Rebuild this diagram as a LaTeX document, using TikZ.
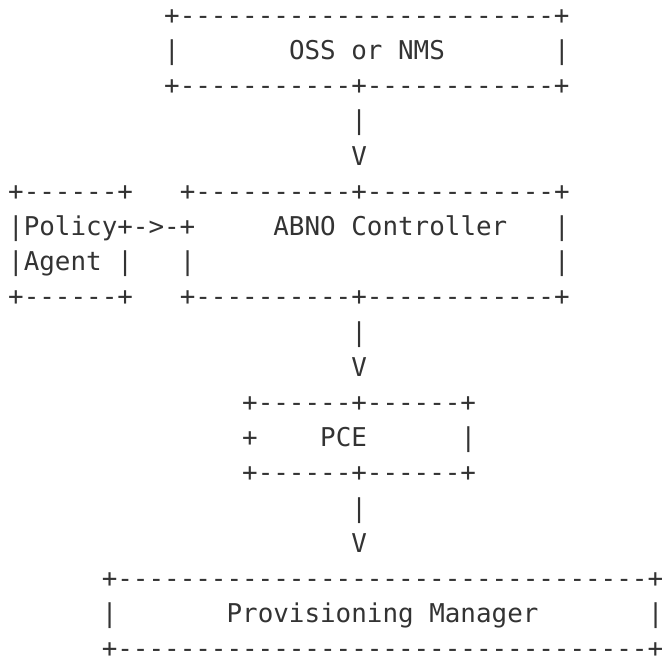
\documentclass[tikz,border=0pt]{standalone}
\usepackage{fontspec}
\newfontfamily\asciimono{DejaVu Sans Mono}[Ligatures=TeXOff]
\definecolor{ink}{HTML}{333333}
\tikzset{asciitxt/.style={anchor=base west, inner sep=0pt, outer sep=0pt, text=ink, font=\asciimono\fontsize{25.9}{35.3}\selectfont}}
\newcommand\asciiseg[4]{\node[asciitxt] (#1) at ({8.2+15.6*#3},{667-24.3-35.2*#2}) {#4};}
\begin{document}
\begin{tikzpicture}[x=1pt,y=1pt]
\useasboundingbox (0,0) rectangle (662,667);
% OSS or NMS
\asciiseg{ossTop}{0}{10}{+------------------------+}
\asciiseg{ossL}{1}{10}{|}
\asciiseg{ossTxt}{1}{18}{OSS or NMS}
\asciiseg{ossR}{1}{35}{|}
\asciiseg{ossBot}{2}{10}{+-----------+------------+}
\asciiseg{v1bar}{3}{22}{|}
\asciiseg{v1arr}{4}{22}{V}
% Policy agent and ABNO controller
\asciiseg{polTop}{5}{0}{+------+}
\asciiseg{abnoTop}{5}{11}{+----------+------------+}
\asciiseg{polL1}{6}{0}{|Policy+->-+}
\asciiseg{abnoTxt}{6}{17}{ABNO Controller}
\asciiseg{abnoR1}{6}{35}{|}
\asciiseg{polL2}{7}{0}{|Agent |}
\asciiseg{abnoL2}{7}{11}{|}
\asciiseg{abnoR2}{7}{35}{|}
\asciiseg{polBot}{8}{0}{+------+}
\asciiseg{abnoBot}{8}{11}{+----------+------------+}
\asciiseg{v2bar}{9}{22}{|}
\asciiseg{v2arr}{10}{22}{V}
% PCE
\asciiseg{pceTop}{11}{15}{+------+------+}
\asciiseg{pceL}{12}{15}{+}
\asciiseg{pceTxt}{12}{20}{PCE}
\asciiseg{pceR}{12}{29}{|}
\asciiseg{pceBot}{13}{15}{+------+------+}
\asciiseg{v3bar}{14}{22}{|}
\asciiseg{v3arr}{15}{22}{V}
% Provisioning Manager
\asciiseg{pmTop}{16}{6}{+----------------------------------+}
\asciiseg{pmL}{17}{6}{|}
\asciiseg{pmTxt}{17}{14}{Provisioning Manager}
\asciiseg{pmR}{17}{41}{|}
\asciiseg{pmBot}{18}{6}{+----------------------------------+}
\end{tikzpicture}
\end{document}
